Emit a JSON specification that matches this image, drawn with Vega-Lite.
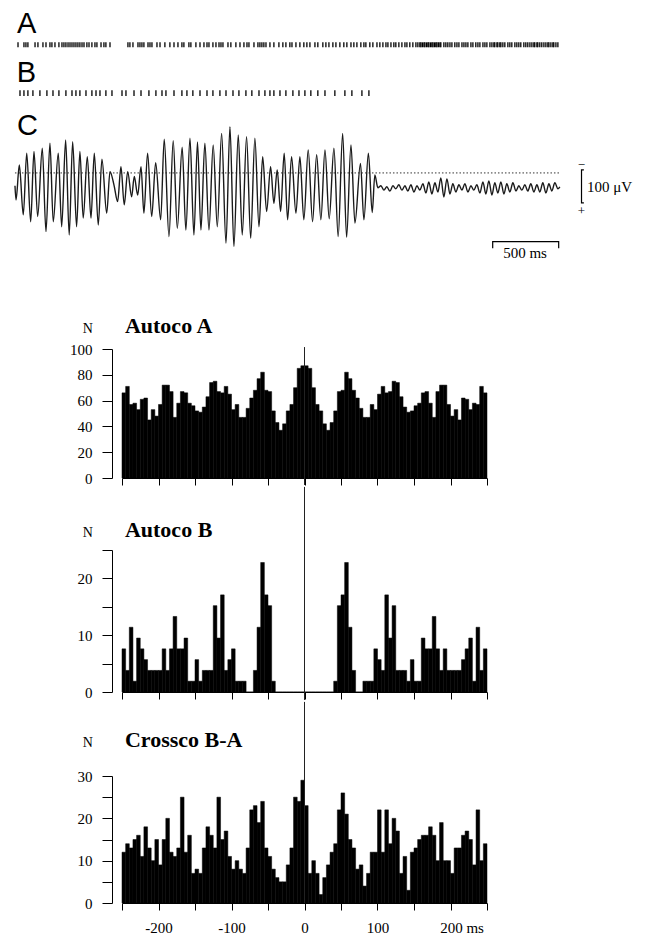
{
  "$schema": "https://vega.github.io/schema/vega-lite/v6.json",
  "padding": {"left": 12, "top": 10, "right": 5, "bottom": 0},
  "background": "white",
  "config": {
    "view": {"stroke": null},
    "font": "Liberation Serif",
    "axis": {"grid": false, "domainColor": "black", "tickColor": "black", "labelColor": "black", "labelFont": "Liberation Serif", "labelFontSize": 15, "domainWidth": 1, "tickWidth": 1, "labelOverlap": false, "labelFlush": false}
  },
  "datasets": {
    "lfp": [
      {"t":0,"uv":-39},{"t":8,"uv":-82},{"t":33,"uv":24},{"t":63,"uv":-127},{"t":89,"uv":60},{"t":119,"uv":-148},{"t":144,"uv":65},{"t":172,"uv":-132},{"t":207,"uv":75},{"t":235,"uv":-178},{"t":265,"uv":90},{"t":290,"uv":-148},{"t":328,"uv":60},{"t":354,"uv":-163},{"t":384,"uv":100},{"t":411,"uv":-188},{"t":437,"uv":95},{"t":467,"uv":-163},{"t":492,"uv":65},{"t":517,"uv":-137},{"t":548,"uv":49},{"t":576,"uv":-137},{"t":601,"uv":60},{"t":631,"uv":-158},{"t":659,"uv":42},{"t":695,"uv":-122},{"t":720,"uv":4},{"t":750,"uv":-36},{"t":778,"uv":-87},{"t":803,"uv":19},{"t":828,"uv":-97},{"t":854,"uv":4},{"t":884,"uv":-72},{"t":904,"uv":-11},{"t":930,"uv":-67},{"t":955,"uv":19},{"t":977,"uv":-122},{"t":1005,"uv":60},{"t":1036,"uv":-132},{"t":1066,"uv":31},{"t":1104,"uv":-142},{"t":1131,"uv":102},{"t":1167,"uv":-193},{"t":1199,"uv":98},{"t":1230,"uv":-168},{"t":1267,"uv":78},{"t":1295,"uv":-173},{"t":1326,"uv":105},{"t":1356,"uv":-188},{"t":1383,"uv":94},{"t":1409,"uv":-173},{"t":1439,"uv":90},{"t":1470,"uv":-173},{"t":1502,"uv":85},{"t":1533,"uv":-163},{"t":1566,"uv":120},{"t":1599,"uv":-213},{"t":1629,"uv":140},{"t":1659,"uv":-223},{"t":1692,"uv":115},{"t":1722,"uv":-188},{"t":1755,"uv":110},{"t":1786,"uv":-198},{"t":1818,"uv":105},{"t":1849,"uv":-163},{"t":1877,"uv":49},{"t":1907,"uv":-117},{"t":1937,"uv":19},{"t":1962,"uv":-92},{"t":1987,"uv":9},{"t":2013,"uv":-117},{"t":2040,"uv":60},{"t":2066,"uv":-142},{"t":2096,"uv":49},{"t":2129,"uv":-122},{"t":2159,"uv":49},{"t":2189,"uv":-142},{"t":2222,"uv":70},{"t":2255,"uv":-148},{"t":2286,"uv":55},{"t":2318,"uv":-142},{"t":2349,"uv":70},{"t":2381,"uv":-139},{"t":2417,"uv":75},{"t":2449,"uv":-193},{"t":2483,"uv":120},{"t":2513,"uv":-195},{"t":2546,"uv":85},{"t":2576,"uv":-152},{"t":2618,"uv":29},{"t":2644,"uv":-142},{"t":2678,"uv":60},{"t":2707,"uv":-120},{"t":2727,"uv":-6},{"t":2750,"uv":-45},
      {"t":2773,"uv":-39},{"t":2796,"uv":-52},{"t":2818,"uv":-42},{"t":2841,"uv":-55},{"t":2864,"uv":-39},{"t":2886,"uv":-48},{"t":2909,"uv":-36},{"t":2932,"uv":-52},{"t":2955,"uv":-39},{"t":2977,"uv":-55},{"t":3000,"uv":-36},{"t":3023,"uv":-58},{"t":3046,"uv":-39},{"t":3068,"uv":-52},{"t":3091,"uv":-33},{"t":3114,"uv":-61},{"t":3136,"uv":-27},{"t":3159,"uv":-64},{"t":3182,"uv":-30},{"t":3205,"uv":-58},{"t":3227,"uv":-15},{"t":3250,"uv":-73},{"t":3273,"uv":-18},{"t":3296,"uv":-64},{"t":3318,"uv":-33},{"t":3341,"uv":-58},{"t":3364,"uv":-36},{"t":3387,"uv":-52},{"t":3409,"uv":-33},{"t":3432,"uv":-58},{"t":3455,"uv":-39},{"t":3477,"uv":-52},{"t":3500,"uv":-36},{"t":3523,"uv":-61},{"t":3546,"uv":-27},{"t":3568,"uv":-64},{"t":3591,"uv":-24},{"t":3614,"uv":-67},{"t":3636,"uv":-30},{"t":3659,"uv":-61},{"t":3682,"uv":-27},{"t":3705,"uv":-64},{"t":3727,"uv":-33},{"t":3750,"uv":-58},{"t":3773,"uv":-30},{"t":3796,"uv":-55},{"t":3818,"uv":-39},{"t":3841,"uv":-52},{"t":3864,"uv":-36},{"t":3886,"uv":-55},{"t":3909,"uv":-33},{"t":3932,"uv":-58},{"t":3955,"uv":-36},{"t":3977,"uv":-58},{"t":4000,"uv":-30},{"t":4023,"uv":-61},{"t":4046,"uv":-33},{"t":4068,"uv":-55},{"t":4091,"uv":-30},{"t":4114,"uv":-48},{"t":4129,"uv":-42}
    ],
    "spikesA": [
      {"t":23},{"t":68},{"t":83},{"t":98},{"t":152},{"t":174},{"t":212},{"t":235},{"t":265},{"t":280},{"t":303},{"t":333},{"t":356},{"t":371},{"t":386},{"t":402},{"t":417},{"t":432},{"t":447},{"t":462},{"t":477},{"t":492},{"t":508},{"t":523},{"t":545},{"t":561},{"t":583},{"t":606},{"t":621},{"t":652},{"t":674},{"t":689},{"t":720},
      {"t":856},{"t":871},{"t":894},{"t":932},{"t":947},{"t":962},{"t":977},{"t":1008},{"t":1023},{"t":1038},{"t":1076},{"t":1099},{"t":1136},{"t":1174},{"t":1205},{"t":1235},{"t":1265},{"t":1280},{"t":1318},{"t":1333},{"t":1371},{"t":1402},{"t":1432},{"t":1455},{"t":1470},{"t":1500},{"t":1523},{"t":1546},{"t":1561},{"t":1576},{"t":1614},{"t":1636},{"t":1674},{"t":1705},{"t":1735},{"t":1758},{"t":1773},{"t":1811},{"t":1841},{"t":1856},{"t":1871},{"t":1886},{"t":1902},{"t":1932},{"t":1962},{"t":2000},{"t":2030},{"t":2053},{"t":2083},{"t":2099},{"t":2129},{"t":2159},{"t":2189},{"t":2212},{"t":2235},{"t":2273},{"t":2295},{"t":2333},{"t":2356},{"t":2379},{"t":2409},{"t":2432},{"t":2462},{"t":2492},{"t":2515},{"t":2546},{"t":2568},{"t":2591},{"t":2621},{"t":2644},{"t":2659},{"t":2689},{"t":2712},{"t":2743},{"t":2765},{"t":2788},{"t":2811},{"t":2826},{"t":2849},{"t":2871},{"t":2886},{"t":2909},{"t":2932},{"t":2955},{"t":2970},{"t":2992},{"t":3015},{"t":3038},{"t":3053},
      {"t":3068},{"t":3076},{"t":3087},{"t":3099},{"t":3106},{"t":3118},{"t":3129},{"t":3136},{"t":3148},{"t":3159},{"t":3167},{"t":3178},{"t":3189},{"t":3197},{"t":3208},{"t":3220},{"t":3227},
      {"t":3250},{"t":3265},{"t":3280},{"t":3296},{"t":3311},{"t":3333},{"t":3349},{"t":3364},{"t":3387},{"t":3402},{"t":3417},{"t":3432},{"t":3455},{"t":3470},{"t":3492},{"t":3508},{"t":3523},{"t":3546},{"t":3561},{"t":3576},{"t":3599},{"t":3614},{"t":3629},{"t":3636},{"t":3652},{"t":3659},{"t":3674},{"t":3682},{"t":3697},{"t":3712},{"t":3735},{"t":3750},{"t":3765},{"t":3788},{"t":3803},{"t":3818},{"t":3833},{"t":3856},{"t":3871},{"t":3886},{"t":3902},{"t":3917},{"t":3932},{"t":3939},{"t":3955},{"t":3962},{"t":3977},{"t":3992},{"t":4008},{"t":4023},{"t":4038},{"t":4046},{"t":4061},{"t":4076},{"t":4083},{"t":4099},{"t":4114}
    ],
    "spikesB": [
      {"t":38},{"t":68},{"t":98},{"t":136},{"t":189},{"t":242},{"t":288},{"t":333},{"t":386},{"t":432},{"t":462},{"t":492},{"t":538},{"t":583},{"t":614},{"t":644},{"t":689},{"t":735},{"t":811},{"t":841},{"t":902},{"t":955},{"t":1015},{"t":1068},{"t":1114},{"t":1144},{"t":1205},{"t":1265},{"t":1303},{"t":1348},{"t":1402},{"t":1455},{"t":1500},{"t":1553},{"t":1599},{"t":1652},{"t":1697},{"t":1750},{"t":1795},{"t":1849},{"t":1894},{"t":1932},{"t":1962},{"t":2008},{"t":2053},{"t":2106},{"t":2152},{"t":2197},{"t":2242},{"t":2295},{"t":2349},{"t":2424},{"t":2500},{"t":2553},{"t":2629},{"t":2682}
    ],
    "rowLabels": [
      {"t":15,"uv":424,"label":"A"},
      {"t":13,"uv":277,"label":"B"},
      {"t":15,"uv":115,"label":"C"}
    ],
    "timeBar": [
      {"i":1,"t":3620,"uv":-228},{"i":2,"t":3620,"uv":-208},{"i":3,"t":4120,"uv":-208},{"i":4,"t":4120,"uv":-228}
    ],
    "ampBar": [
      {"i":1,"t":4311,"uv":9},{"i":2,"t":4293,"uv":9},{"i":3,"t":4293,"uv":-91},{"i":4,"t":4311,"uv":-91}
    ],
    "autoA": [
      {"start":-250,"end":-245,"n":66},{"start":-245,"end":-240,"n":71},{"start":-240,"end":-235,"n":57},{"start":-235,"end":-230,"n":58},{"start":-230,"end":-225,"n":53},{"start":-225,"end":-220,"n":61},{"start":-220,"end":-215,"n":62},{"start":-215,"end":-210,"n":45},{"start":-210,"end":-205,"n":53},{"start":-205,"end":-200,"n":48},
      {"start":-200,"end":-195,"n":57},{"start":-195,"end":-190,"n":72},{"start":-190,"end":-185,"n":72},{"start":-185,"end":-180,"n":67},{"start":-180,"end":-175,"n":47},{"start":-175,"end":-170,"n":58},{"start":-170,"end":-165,"n":67},{"start":-165,"end":-160,"n":66},{"start":-160,"end":-155,"n":58},{"start":-155,"end":-150,"n":56},
      {"start":-150,"end":-145,"n":52},{"start":-145,"end":-140,"n":51},{"start":-140,"end":-135,"n":55},{"start":-135,"end":-130,"n":63},{"start":-130,"end":-125,"n":74},{"start":-125,"end":-120,"n":75},{"start":-120,"end":-115,"n":67},{"start":-115,"end":-110,"n":66},{"start":-110,"end":-105,"n":71},{"start":-105,"end":-100,"n":65},
      {"start":-100,"end":-95,"n":53},{"start":-95,"end":-90,"n":57},{"start":-90,"end":-85,"n":47},{"start":-85,"end":-80,"n":47},{"start":-80,"end":-75,"n":54},{"start":-75,"end":-70,"n":62},{"start":-70,"end":-65,"n":68},{"start":-65,"end":-60,"n":77},{"start":-60,"end":-55,"n":82},{"start":-55,"end":-50,"n":68},
      {"start":-50,"end":-45,"n":67},{"start":-45,"end":-40,"n":52},{"start":-40,"end":-35,"n":43},{"start":-35,"end":-30,"n":37},{"start":-30,"end":-25,"n":42},{"start":-25,"end":-20,"n":52},{"start":-20,"end":-15,"n":57},{"start":-15,"end":-10,"n":70},{"start":-10,"end":-5,"n":85},{"start":-5,"end":0,"n":87},
      {"start":0,"end":5,"n":87},{"start":5,"end":10,"n":85},{"start":10,"end":15,"n":70},{"start":15,"end":20,"n":57},{"start":20,"end":25,"n":52},{"start":25,"end":30,"n":42},{"start":30,"end":35,"n":37},{"start":35,"end":40,"n":43},{"start":40,"end":45,"n":52},{"start":45,"end":50,"n":67},
      {"start":50,"end":55,"n":68},{"start":55,"end":60,"n":82},{"start":60,"end":65,"n":77},{"start":65,"end":70,"n":68},{"start":70,"end":75,"n":62},{"start":75,"end":80,"n":54},{"start":80,"end":85,"n":47},{"start":85,"end":90,"n":47},{"start":90,"end":95,"n":57},{"start":95,"end":100,"n":53},
      {"start":100,"end":105,"n":65},{"start":105,"end":110,"n":71},{"start":110,"end":115,"n":66},{"start":115,"end":120,"n":67},{"start":120,"end":125,"n":75},{"start":125,"end":130,"n":74},{"start":130,"end":135,"n":63},{"start":135,"end":140,"n":55},{"start":140,"end":145,"n":51},{"start":145,"end":150,"n":52},
      {"start":150,"end":155,"n":56},{"start":155,"end":160,"n":58},{"start":160,"end":165,"n":66},{"start":165,"end":170,"n":67},{"start":170,"end":175,"n":58},{"start":175,"end":180,"n":47},{"start":180,"end":185,"n":67},{"start":185,"end":190,"n":72},{"start":190,"end":195,"n":72},{"start":195,"end":200,"n":57},
      {"start":200,"end":205,"n":48},{"start":205,"end":210,"n":53},{"start":210,"end":215,"n":45},{"start":215,"end":220,"n":62},{"start":220,"end":225,"n":61},{"start":225,"end":230,"n":53},{"start":230,"end":235,"n":58},{"start":235,"end":240,"n":57},{"start":240,"end":245,"n":71},{"start":245,"end":250,"n":66}
    ],
    "autoB": [
      {"start":-250,"end":-245,"n":7.6},{"start":-245,"end":-240,"n":3.8},{"start":-240,"end":-235,"n":11.4},{"start":-235,"end":-230,"n":1.9},{"start":-230,"end":-225,"n":9.5},{"start":-225,"end":-220,"n":7.6},{"start":-220,"end":-215,"n":5.7},{"start":-215,"end":-210,"n":3.8},{"start":-210,"end":-205,"n":3.8},{"start":-205,"end":-200,"n":3.8},
      {"start":-200,"end":-195,"n":3.8},{"start":-195,"end":-190,"n":7.6},{"start":-190,"end":-185,"n":3.8},{"start":-185,"end":-180,"n":7.6},{"start":-180,"end":-175,"n":13.3},{"start":-175,"end":-170,"n":7.6},{"start":-170,"end":-165,"n":7.6},{"start":-165,"end":-160,"n":9.5},{"start":-160,"end":-155,"n":1.9},{"start":-155,"end":-150,"n":1.9},
      {"start":-150,"end":-145,"n":5.7},{"start":-145,"end":-140,"n":1.9},{"start":-140,"end":-135,"n":3.8},{"start":-135,"end":-130,"n":3.8},{"start":-130,"end":-125,"n":3.8},{"start":-125,"end":-120,"n":15.2},{"start":-120,"end":-115,"n":9.5},{"start":-115,"end":-110,"n":17.1},{"start":-110,"end":-105,"n":3.8},{"start":-105,"end":-100,"n":5.7},
      {"start":-100,"end":-95,"n":7.6},{"start":-95,"end":-90,"n":1.9},{"start":-90,"end":-85,"n":1.9},{"start":-85,"end":-80,"n":1.9},{"start":-80,"end":-75,"n":0},{"start":-75,"end":-70,"n":0},{"start":-70,"end":-65,"n":3.8},{"start":-65,"end":-60,"n":11.4},{"start":-60,"end":-55,"n":22.8},{"start":-55,"end":-50,"n":17.1},
      {"start":-50,"end":-45,"n":15.2},{"start":-45,"end":-40,"n":1.9},{"start":-40,"end":-35,"n":0},{"start":-35,"end":-30,"n":0},{"start":-30,"end":-25,"n":0},{"start":-25,"end":-20,"n":0},{"start":-20,"end":-15,"n":0},{"start":-15,"end":-10,"n":0},{"start":-10,"end":-5,"n":0},{"start":-5,"end":0,"n":0},
      {"start":0,"end":5,"n":0},{"start":5,"end":10,"n":0},{"start":10,"end":15,"n":0},{"start":15,"end":20,"n":0},{"start":20,"end":25,"n":0},{"start":25,"end":30,"n":0},{"start":30,"end":35,"n":0},{"start":35,"end":40,"n":0},{"start":40,"end":45,"n":1.9},{"start":45,"end":50,"n":15.2},
      {"start":50,"end":55,"n":17.1},{"start":55,"end":60,"n":22.8},{"start":60,"end":65,"n":11.4},{"start":65,"end":70,"n":3.8},{"start":70,"end":75,"n":0},{"start":75,"end":80,"n":0},{"start":80,"end":85,"n":1.9},{"start":85,"end":90,"n":1.9},{"start":90,"end":95,"n":1.9},{"start":95,"end":100,"n":7.6},
      {"start":100,"end":105,"n":5.7},{"start":105,"end":110,"n":3.8},{"start":110,"end":115,"n":17.1},{"start":115,"end":120,"n":9.5},{"start":120,"end":125,"n":15.2},{"start":125,"end":130,"n":3.8},{"start":130,"end":135,"n":3.8},{"start":135,"end":140,"n":3.8},{"start":140,"end":145,"n":1.9},{"start":145,"end":150,"n":5.7},
      {"start":150,"end":155,"n":1.9},{"start":155,"end":160,"n":1.9},{"start":160,"end":165,"n":9.5},{"start":165,"end":170,"n":7.6},{"start":170,"end":175,"n":7.6},{"start":175,"end":180,"n":13.3},{"start":180,"end":185,"n":7.6},{"start":185,"end":190,"n":3.8},{"start":190,"end":195,"n":7.6},{"start":195,"end":200,"n":3.8},
      {"start":200,"end":205,"n":3.8},{"start":205,"end":210,"n":3.8},{"start":210,"end":215,"n":3.8},{"start":215,"end":220,"n":5.7},{"start":220,"end":225,"n":7.6},{"start":225,"end":230,"n":9.5},{"start":230,"end":235,"n":1.9},{"start":235,"end":240,"n":11.4},{"start":240,"end":245,"n":3.8},{"start":245,"end":250,"n":7.6}
    ],
    "crossBA": [
      {"start":-250,"end":-245,"n":12},{"start":-245,"end":-240,"n":14},{"start":-240,"end":-235,"n":13},{"start":-235,"end":-230,"n":15},{"start":-230,"end":-225,"n":16},{"start":-225,"end":-220,"n":11},{"start":-220,"end":-215,"n":18},{"start":-215,"end":-210,"n":13},{"start":-210,"end":-205,"n":10},{"start":-205,"end":-200,"n":15},
      {"start":-200,"end":-195,"n":9},{"start":-195,"end":-190,"n":15},{"start":-190,"end":-185,"n":20},{"start":-185,"end":-180,"n":12},{"start":-180,"end":-175,"n":11},{"start":-175,"end":-170,"n":13},{"start":-170,"end":-165,"n":25},{"start":-165,"end":-160,"n":12},{"start":-160,"end":-155,"n":16},{"start":-155,"end":-150,"n":7},
      {"start":-150,"end":-145,"n":8},{"start":-145,"end":-140,"n":7},{"start":-140,"end":-135,"n":13},{"start":-135,"end":-130,"n":18},{"start":-130,"end":-125,"n":16},{"start":-125,"end":-120,"n":13},{"start":-120,"end":-115,"n":25},{"start":-115,"end":-110,"n":15},{"start":-110,"end":-105,"n":17},{"start":-105,"end":-100,"n":11},
      {"start":-100,"end":-95,"n":8},{"start":-95,"end":-90,"n":10},{"start":-90,"end":-85,"n":8},{"start":-85,"end":-80,"n":7},{"start":-80,"end":-75,"n":13},{"start":-75,"end":-70,"n":22},{"start":-70,"end":-65,"n":23},{"start":-65,"end":-60,"n":19},{"start":-60,"end":-55,"n":24},{"start":-55,"end":-50,"n":13},
      {"start":-50,"end":-45,"n":11},{"start":-45,"end":-40,"n":8},{"start":-40,"end":-35,"n":6},{"start":-35,"end":-30,"n":5},{"start":-30,"end":-25,"n":5},{"start":-25,"end":-20,"n":9},{"start":-20,"end":-15,"n":13},{"start":-15,"end":-10,"n":25},{"start":-10,"end":-5,"n":24},{"start":-5,"end":0,"n":29},
      {"start":0,"end":5,"n":23},{"start":5,"end":10,"n":7},{"start":10,"end":15,"n":10},{"start":15,"end":20,"n":7},{"start":20,"end":25,"n":2},{"start":25,"end":30,"n":6},{"start":30,"end":35,"n":9},{"start":35,"end":40,"n":12},{"start":40,"end":45,"n":14},{"start":45,"end":50,"n":22},
      {"start":50,"end":55,"n":26},{"start":55,"end":60,"n":21},{"start":60,"end":65,"n":15},{"start":65,"end":70,"n":13},{"start":70,"end":75,"n":8},{"start":75,"end":80,"n":9},{"start":80,"end":85,"n":4},{"start":85,"end":90,"n":7},{"start":90,"end":95,"n":12},{"start":95,"end":100,"n":12},
      {"start":100,"end":105,"n":22},{"start":105,"end":110,"n":12},{"start":110,"end":115,"n":22},{"start":115,"end":120,"n":14},{"start":120,"end":125,"n":20},{"start":125,"end":130,"n":17},{"start":130,"end":135,"n":7},{"start":135,"end":140,"n":11},{"start":140,"end":145,"n":3},{"start":145,"end":150,"n":12},
      {"start":150,"end":155,"n":13},{"start":155,"end":160,"n":15},{"start":160,"end":165,"n":16},{"start":165,"end":170,"n":16},{"start":170,"end":175,"n":18},{"start":175,"end":180,"n":16},{"start":180,"end":185,"n":10},{"start":185,"end":190,"n":19},{"start":190,"end":195,"n":10},{"start":195,"end":200,"n":10},
      {"start":200,"end":205,"n":7},{"start":205,"end":210,"n":13},{"start":210,"end":215,"n":13},{"start":215,"end":220,"n":16},{"start":220,"end":225,"n":17},{"start":225,"end":230,"n":15},{"start":230,"end":235,"n":9},{"start":235,"end":240,"n":22},{"start":240,"end":245,"n":10},{"start":245,"end":250,"n":14}
    ]
  },
  "spacing": 52,
  "vconcat": [
    {
      "width": 438,
      "height": 250,
      "layer": [
        {
          "data": {"values": [{}]},
          "mark": {"type": "rule", "strokeDash": [1.5, 2], "strokeWidth": 1, "color": "#333"},
          "encoding": {
            "x": {"datum": 0, "type": "quantitative", "scale": {"domain": [811, 4130], "nice": false, "zero": false}, "axis": null},
            "x2": {"datum": 4130},
            "y": {"datum": 0, "type": "quantitative", "scale": {"domain": [-264, 494], "nice": false, "zero": false}, "axis": null}
          }
        },
        {
          "data": {"name": "lfp"},
          "mark": {"type": "line", "interpolate": "monotone", "color": "#1a1a1a", "strokeWidth": 1.4},
          "encoding": {
            "x": {"field": "t", "type": "quantitative"},
            "y": {"field": "uv", "type": "quantitative"}
          }
        },
        {
          "data": {"name": "spikesA"},
          "mark": {"type": "rule", "color": "black", "strokeWidth": 1.3},
          "encoding": {
            "x": {"field": "t", "type": "quantitative"},
            "y": {"datum": 396},
            "y2": {"datum": 381}
          }
        },
        {
          "data": {"name": "spikesB"},
          "mark": {"type": "rule", "color": "black", "strokeWidth": 1.3},
          "encoding": {
            "x": {"field": "t", "type": "quantitative"},
            "y": {"datum": 251},
            "y2": {"datum": 233}
          }
        },
        {
          "data": {"name": "rowLabels"},
          "mark": {"type": "text", "font": "Liberation Sans", "fontSize": 29, "align": "left", "baseline": "alphabetic", "color": "black"},
          "encoding": {
            "x": {"field": "t", "type": "quantitative"},
            "y": {"field": "uv", "type": "quantitative"},
            "text": {"field": "label"}
          }
        },
        {
          "data": {"name": "timeBar"},
          "mark": {"type": "line", "color": "black", "strokeWidth": 1.2},
          "encoding": {
            "x": {"field": "t", "type": "quantitative"},
            "y": {"field": "uv", "type": "quantitative"},
            "order": {"field": "i"}
          }
        },
        {
          "data": {"name": "ampBar"},
          "mark": {"type": "line", "color": "black", "strokeWidth": 1.2},
          "encoding": {
            "x": {"field": "t", "type": "quantitative"},
            "y": {"field": "uv", "type": "quantitative"},
            "order": {"field": "i"}
          }
        },
        {
          "data": {"values": [{}]},
          "mark": {"type": "text", "text": "500 ms", "font": "Liberation Serif", "fontSize": 15, "align": "center", "baseline": "alphabetic", "color": "black"},
          "encoding": {"x": {"datum": 3865}, "y": {"datum": -258}}
        },
        {
          "data": {"values": [{}]},
          "mark": {"type": "text", "text": "100 μV", "font": "Liberation Serif", "fontSize": 15, "align": "left", "baseline": "middle", "color": "black"},
          "encoding": {"x": {"datum": 4335}, "y": {"datum": -44}}
        },
        {
          "data": {"values": [{}]},
          "mark": {"type": "text", "text": "−", "font": "Liberation Serif", "fontSize": 13, "align": "center", "baseline": "middle", "color": "black"},
          "encoding": {"x": {"datum": 4292}, "y": {"datum": 24}}
        },
        {
          "data": {"values": [{}]},
          "mark": {"type": "text", "text": "+", "font": "Liberation Serif", "fontSize": 13, "align": "center", "baseline": "middle", "color": "black"},
          "encoding": {"x": {"datum": 4292}, "y": {"datum": -115}}
        }
      ]
    },
    {
      "spacing": 0,
      "vconcat": [
        {
          "width": 365,
          "height": 129,
          "layer": [
            {
              "data": {"name": "autoA"},
              "mark": {"type": "rect", "color": "black", "stroke": "black", "strokeWidth": 0.5},
              "encoding": {
                "x": {"field": "start", "type": "quantitative", "scale": {"domain": [-250, 250], "nice": false, "zero": false},
                      "axis": {"values": [-250,-200,-150,-100,-50,0,50,100,150,200,250], "tickCount": 30, "labels": false, "tickSize": 7, "title": null}},
                "x2": {"field": "end"},
                "y": {"field": "n", "type": "quantitative", "scale": {"domain": [0, 100], "nice": false},
                      "axis": {"values": [0,20,40,60,80,100], "tickCount": 30, "labelOverlap": false, "offset": 10, "tickSize": 10, "labelPadding": 10, "domain": true, "ticks": true, "title": null}},
                "y2": {"datum": 0}
              }
            },
            {
              "data": {"values": [{}]},
              "mark": {"type": "rule", "color": "#222", "strokeWidth": 1},
              "encoding": {"x": {"datum": 0}, "y": {"datum": -5.4}, "y2": {"datum": 101.5}}
            },
            {
              "data": {"values": [{}]},
              "mark": {"type": "text", "text": "Autoco A", "font": "Liberation Serif", "fontSize": 22, "fontWeight": "bold", "align": "left", "baseline": "alphabetic", "color": "black"},
              "encoding": {"x": {"datum": -246}, "y": {"datum": 112.5}}
            },
            {
              "data": {"values": [{}]},
              "mark": {"type": "text", "text": "N", "font": "Liberation Serif", "fontSize": 14, "align": "center", "baseline": "alphabetic", "color": "black"},
              "encoding": {"x": {"datum": -297}, "y": {"datum": 112.5}}
            }
          ]
        },
        {
          "width": 365,
          "height": 142,
          "layer": [
            {
              "data": {"name": "autoB"},
              "mark": {"type": "rect", "color": "black", "stroke": "black", "strokeWidth": 0.5},
              "encoding": {
                "x": {"field": "start", "type": "quantitative", "scale": {"domain": [-250, 250], "nice": false, "zero": false},
                      "axis": {"values": [-250,-200,-150,-100,-50,0,50,100,150,200,250], "tickCount": 30, "labels": false, "tickSize": 7, "title": null}},
                "x2": {"field": "end"},
                "y": {"field": "n", "type": "quantitative", "scale": {"domain": [0, 25], "nice": false},
                      "axis": {"values": [0,5,10,15,20,25], "tickCount": 30, "labelOverlap": false, "labelExpr": "datum.value % 10 == 0 ? datum.label : ''", "offset": 10, "tickSize": 10, "labelPadding": 10, "domain": true, "ticks": true, "title": null}},
                "y2": {"datum": 0}
              }
            },
            {
              "data": {"values": [{}]},
              "mark": {"type": "rule", "color": "#222", "strokeWidth": 1},
              "encoding": {"x": {"datum": 0}, "y": {"datum": -1.4}, "y2": {"datum": 36.1}}
            },
            {
              "data": {"values": [{}]},
              "mark": {"type": "text", "text": "Autoco B", "font": "Liberation Serif", "fontSize": 22, "fontWeight": "bold", "align": "left", "baseline": "alphabetic", "color": "black"},
              "encoding": {"x": {"datum": -246}, "y": {"datum": 27.3}}
            },
            {
              "data": {"values": [{}]},
              "mark": {"type": "text", "text": "N", "font": "Liberation Serif", "fontSize": 14, "align": "center", "baseline": "alphabetic", "color": "black"},
              "encoding": {"x": {"datum": -297}, "y": {"datum": 27.3}}
            }
          ]
        },
        {
          "width": 365,
          "height": 127,
          "layer": [
            {
              "data": {"name": "crossBA"},
              "mark": {"type": "rect", "color": "black", "stroke": "black", "strokeWidth": 0.5},
              "encoding": {
                "x": {"field": "start", "type": "quantitative", "scale": {"domain": [-250, 250], "nice": false, "zero": false},
                      "axis": {"values": [-250,-200,-150,-100,-50,0,50,100,150,200,250], "tickCount": 30, "labelOverlap": false, "labelExpr": "datum.value % 100 == 0 ? (datum.value == 200 ? '200 ms' : '' + datum.value) : ''", "labelOffset": {"condition": {"test": "datum.value == 200", "value": 11}, "value": 0}, "labelBaseline": "top", "labelPadding": 10, "tickSize": 7, "title": null}},
                "x2": {"field": "end"},
                "y": {"field": "n", "type": "quantitative", "scale": {"domain": [0, 30], "nice": false},
                      "axis": {"values": [0,5,10,15,20,25,30], "tickCount": 30, "labelOverlap": false, "labelExpr": "datum.value % 10 == 0 ? datum.label : ''", "offset": 10, "tickSize": 10, "labelPadding": 10, "domain": true, "ticks": true, "title": null}},
                "y2": {"datum": 0}
              }
            },
            {
              "data": {"values": [{}]},
              "mark": {"type": "rule", "color": "#222", "strokeWidth": 1},
              "encoding": {"x": {"datum": 0}, "y": {"datum": 0}, "y2": {"datum": 47.5}}
            },
            {
              "data": {"values": [{}]},
              "mark": {"type": "text", "text": "Crossco B-A", "font": "Liberation Serif", "fontSize": 22, "fontWeight": "bold", "align": "left", "baseline": "alphabetic", "color": "black"},
              "encoding": {"x": {"datum": -246}, "y": {"datum": 36.9}}
            },
            {
              "data": {"values": [{}]},
              "mark": {"type": "text", "text": "N", "font": "Liberation Serif", "fontSize": 14, "align": "center", "baseline": "alphabetic", "color": "black"},
              "encoding": {"x": {"datum": -297}, "y": {"datum": 36.9}}
            }
          ]
        }
      ]
    }
  ]
}
